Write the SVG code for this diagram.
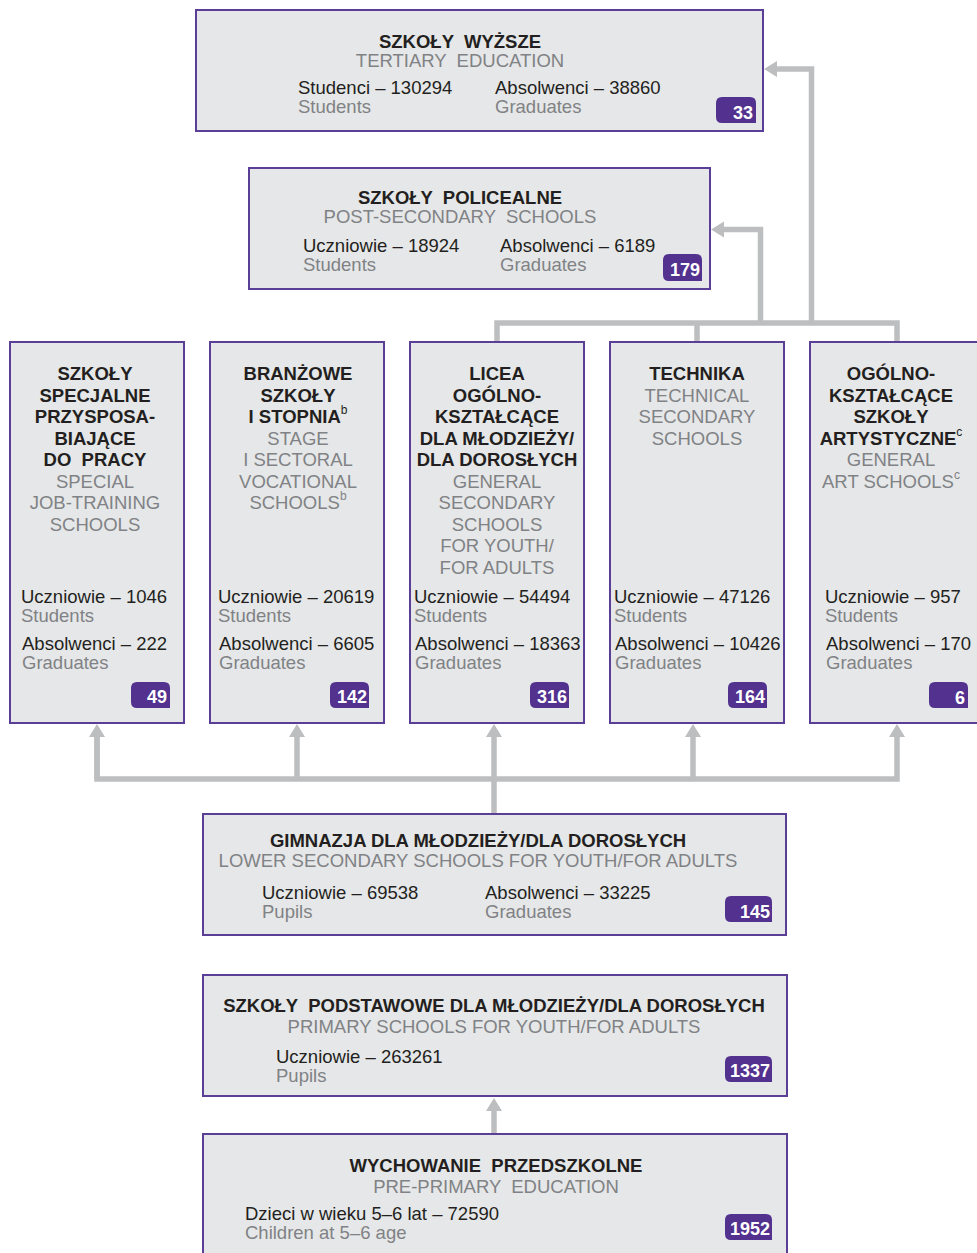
<svg xmlns="http://www.w3.org/2000/svg" width="977" height="1253" viewBox="0 0 977 1253">
<style>
text{font-family:"Liberation Sans",Arial,sans-serif;font-size:18.5px}
.box{fill:#E6E7E8;stroke:#5B3E96;stroke-width:2}
.t{font-weight:bold;fill:#231F20;text-anchor:middle}
.s{fill:#808285;text-anchor:middle}
.v{fill:#231F20}
.g{fill:#808285}
.bd{fill:#52318F}
.bt{fill:#FFFFFF;font-weight:bold;font-size:18px;text-anchor:end}
.sup{font-size:12px}
.con{fill:none;stroke:#BCBEC0;stroke-width:5.5;stroke-linejoin:miter}
</style>
<defs>
<marker id="ah" markerUnits="userSpaceOnUse" markerWidth="14" markerHeight="16" refX="0" refY="8" orient="auto" overflow="visible">
<path d="M0,0 L13,8 L0,16 Z" fill="#BCBEC0"/>
</marker>
</defs>

<g id="connectors">
<path class="con" d="M97,737 V779 H897 V737" marker-end="url(#ah)"/>
<path class="con" d="M97,779 V737" marker-end="url(#ah)"/>
<path class="con" d="M297,779 V737" marker-end="url(#ah)"/>
<path class="con" d="M494,813 V737" marker-end="url(#ah)"/>
<path class="con" d="M693,779 V737" marker-end="url(#ah)"/>
<path class="con" d="M497,342 V323 H897 V342"/>
<path class="con" d="M697,342 V323"/>
<path class="con" d="M760.5,323 V229.5 H724" marker-end="url(#ah)"/>
<path class="con" d="M811.5,323 V69 H777" marker-end="url(#ah)"/>
<path class="con" d="M494,1134 V1111" marker-end="url(#ah)"/>
</g>

<g id="tertiary">
<rect class="box" x="196" y="10" width="567" height="121"/>
<text class="t" x="460" y="48" xml:space="preserve">SZKOŁY  WYŻSZE</text>
<text class="s" x="460" y="67" xml:space="preserve">TERTIARY  EDUCATION</text>
<text class="v" x="298" y="94">Studenci – 130294</text>
<text class="g" x="298" y="113">Students</text>
<text class="v" x="495" y="94">Absolwenci – 38860</text>
<text class="g" x="495" y="113">Graduates</text>
<path class="bd" d="M722,97 H750 Q756,97 756,103 V123 H722 Q716,123 716,117 V103 Q716,97 722,97 Z"/>
<text class="bt" x="753" y="119">33</text>
</g>

<g id="postsecondary">
<rect class="box" x="249" y="168" width="461" height="121"/>
<text class="t" x="460" y="204" xml:space="preserve">SZKOŁY  POLICEALNE</text>
<text class="s" x="460" y="223" xml:space="preserve">POST-SECONDARY  SCHOOLS</text>
<text class="v" x="303" y="252">Uczniowie – 18924</text>
<text class="g" x="303" y="271">Students</text>
<text class="v" x="500" y="252">Absolwenci – 6189</text>
<text class="g" x="500" y="271">Graduates</text>
<path class="bd" d="M669,254 H696 Q702,254 702,260 V281 H669 Q663,281 663,275 V260 Q663,254 669,254 Z"/>
<text class="bt" x="700" y="276">179</text>
</g>

<g id="special">
<rect class="box" x="10" y="342" width="174" height="381"/>
<text class="t" x="95" y="380">SZKOŁY</text>
<text class="t" x="95" y="401.5">SPECJALNE</text>
<text class="t" x="95" y="423">PRZYSPOSA-</text>
<text class="t" x="95" y="444.5">BIAJĄCE</text>
<text class="t" x="95" y="466" xml:space="preserve">DO  PRACY</text>
<text class="s" x="95" y="487.5">SPECIAL</text>
<text class="s" x="95" y="509">JOB-TRAINING</text>
<text class="s" x="95" y="530.5">SCHOOLS</text>
<text class="v" x="21" y="603">Uczniowie – 1046</text>
<text class="g" x="21" y="622">Students</text>
<text class="v" x="22" y="650">Absolwenci – 222</text>
<text class="g" x="22" y="669">Graduates</text>
<path class="bd" d="M137,682 H164 Q170,682 170,688 V708 H137 Q131,708 131,702 V688 Q131,682 137,682 Z"/>
<text class="bt" x="167" y="703">49</text>
</g>

<g id="sectoral">
<rect class="box" x="210" y="342" width="174" height="381"/>
<text class="t" x="298" y="380">BRANŻOWE</text>
<text class="t" x="298" y="401.5">SZKOŁY</text>
<text class="t" x="298" y="423">I STOPNIA<tspan class="sup" font-weight="normal" dy="-9">b</tspan></text>
<text class="s" x="298" y="444.5">STAGE</text>
<text class="s" x="298" y="466">I SECTORAL</text>
<text class="s" x="298" y="487.5">VOCATIONAL</text>
<text class="s" x="298" y="509">SCHOOLS<tspan class="sup" dy="-9">b</tspan></text>
<text class="v" x="218" y="603">Uczniowie – 20619</text>
<text class="g" x="218" y="622">Students</text>
<text class="v" x="219" y="650">Absolwenci – 6605</text>
<text class="g" x="219" y="669">Graduates</text>
<path class="bd" d="M336,682 H363 Q369,682 369,688 V708 H336 Q330,708 330,702 V688 Q330,682 336,682 Z"/>
<text class="bt" x="367" y="703">142</text>
</g>

<g id="licea">
<rect class="box" x="410" y="342" width="174" height="381"/>
<text class="t" x="497" y="380">LICEA</text>
<text class="t" x="497" y="401.5">OGÓLNO-</text>
<text class="t" x="497" y="423">KSZTAŁCĄCE</text>
<text class="t" x="497" y="444.5">DLA MŁODZIEŻY/</text>
<text class="t" x="497" y="466">DLA DOROSŁYCH</text>
<text class="s" x="497" y="487.5">GENERAL</text>
<text class="s" x="497" y="509">SECONDARY</text>
<text class="s" x="497" y="530.5">SCHOOLS</text>
<text class="s" x="497" y="552">FOR YOUTH/</text>
<text class="s" x="497" y="573.5">FOR ADULTS</text>
<text class="v" x="414" y="603">Uczniowie – 54494</text>
<text class="g" x="414" y="622">Students</text>
<text class="v" x="415" y="650">Absolwenci – 18363</text>
<text class="g" x="415" y="669">Graduates</text>
<path class="bd" d="M536,682 H563 Q569,682 569,688 V708 H536 Q530,708 530,702 V688 Q530,682 536,682 Z"/>
<text class="bt" x="567" y="703">316</text>
</g>

<g id="technika">
<rect class="box" x="610" y="342" width="174" height="381"/>
<text class="t" x="697" y="380">TECHNIKA</text>
<text class="s" x="697" y="401.5">TECHNICAL</text>
<text class="s" x="697" y="423">SECONDARY</text>
<text class="s" x="697" y="444.5">SCHOOLS</text>
<text class="v" x="614" y="603">Uczniowie – 47126</text>
<text class="g" x="614" y="622">Students</text>
<text class="v" x="615" y="650">Absolwenci – 10426</text>
<text class="g" x="615" y="669">Graduates</text>
<path class="bd" d="M734,682 H761 Q767,682 767,688 V708 H734 Q728,708 728,702 V688 Q728,682 734,682 Z"/>
<text class="bt" x="765" y="703">164</text>
</g>

<g id="art">
<rect class="box" x="810" y="342" width="174" height="381"/>
<text class="t" x="891" y="380">OGÓLNO-</text>
<text class="t" x="891" y="401.5">KSZTAŁCĄCE</text>
<text class="t" x="891" y="423">SZKOŁY</text>
<text class="t" x="891" y="444.5">ARTYSTYCZNE<tspan class="sup" font-weight="normal" dy="-9">c</tspan></text>
<text class="s" x="891" y="466">GENERAL</text>
<text class="s" x="891" y="487.5">ART SCHOOLS<tspan class="sup" dy="-9">c</tspan></text>
<text class="v" x="825" y="603">Uczniowie – 957</text>
<text class="g" x="825" y="622">Students</text>
<text class="v" x="826" y="650">Absolwenci – 170</text>
<text class="g" x="826" y="669">Graduates</text>
<path class="bd" d="M935,682 H962 Q968,682 968,688 V708 H935 Q929,708 929,702 V688 Q929,682 935,682 Z"/>
<text class="bt" x="965" y="704">6</text>
</g>

<g id="gimnazja">
<rect class="box" x="203" y="814" width="583" height="121"/>
<text class="t" x="478" y="847">GIMNAZJA DLA MŁODZIEŻY/DLA DOROSŁYCH</text>
<text class="s" x="478" y="867">LOWER SECONDARY SCHOOLS FOR YOUTH/FOR ADULTS</text>
<text class="v" x="262" y="899">Uczniowie – 69538</text>
<text class="g" x="262" y="918">Pupils</text>
<text class="v" x="485" y="899">Absolwenci – 33225</text>
<text class="g" x="485" y="918">Graduates</text>
<path class="bd" d="M731,896 H766 Q772,896 772,902 V922 H731 Q725,922 725,916 V902 Q725,896 731,896 Z"/>
<text class="bt" x="770" y="918">145</text>
</g>

<g id="primary">
<rect class="box" x="203" y="975" width="584" height="121"/>
<text class="t" x="494" y="1012" xml:space="preserve">SZKOŁY  PODSTAWOWE DLA MŁODZIEŻY/DLA DOROSŁYCH</text>
<text class="s" x="494" y="1033">PRIMARY SCHOOLS FOR YOUTH/FOR ADULTS</text>
<text class="v" x="276" y="1063">Uczniowie – 263261</text>
<text class="g" x="276" y="1082">Pupils</text>
<path class="bd" d="M731,1056 H766 Q772,1056 772,1062 V1082 H731 Q725,1082 725,1076 V1062 Q725,1056 731,1056 Z"/>
<text class="bt" x="770" y="1077">1337</text>
</g>

<g id="preprimary">
<rect class="box" x="203" y="1134" width="584" height="130"/>
<text class="t" x="496" y="1172" xml:space="preserve">WYCHOWANIE  PRZEDSZKOLNE</text>
<text class="s" x="496" y="1193" xml:space="preserve">PRE-PRIMARY  EDUCATION</text>
<text class="v" x="245" y="1220">Dzieci w wieku 5–6 lat – 72590</text>
<text class="g" x="245" y="1239">Children at 5–6 age</text>
<path class="bd" d="M731,1214 H766 Q772,1214 772,1220 V1240 H731 Q725,1240 725,1234 V1220 Q725,1214 731,1214 Z"/>
<text class="bt" x="770" y="1235">1952</text>
</g>
</svg>
